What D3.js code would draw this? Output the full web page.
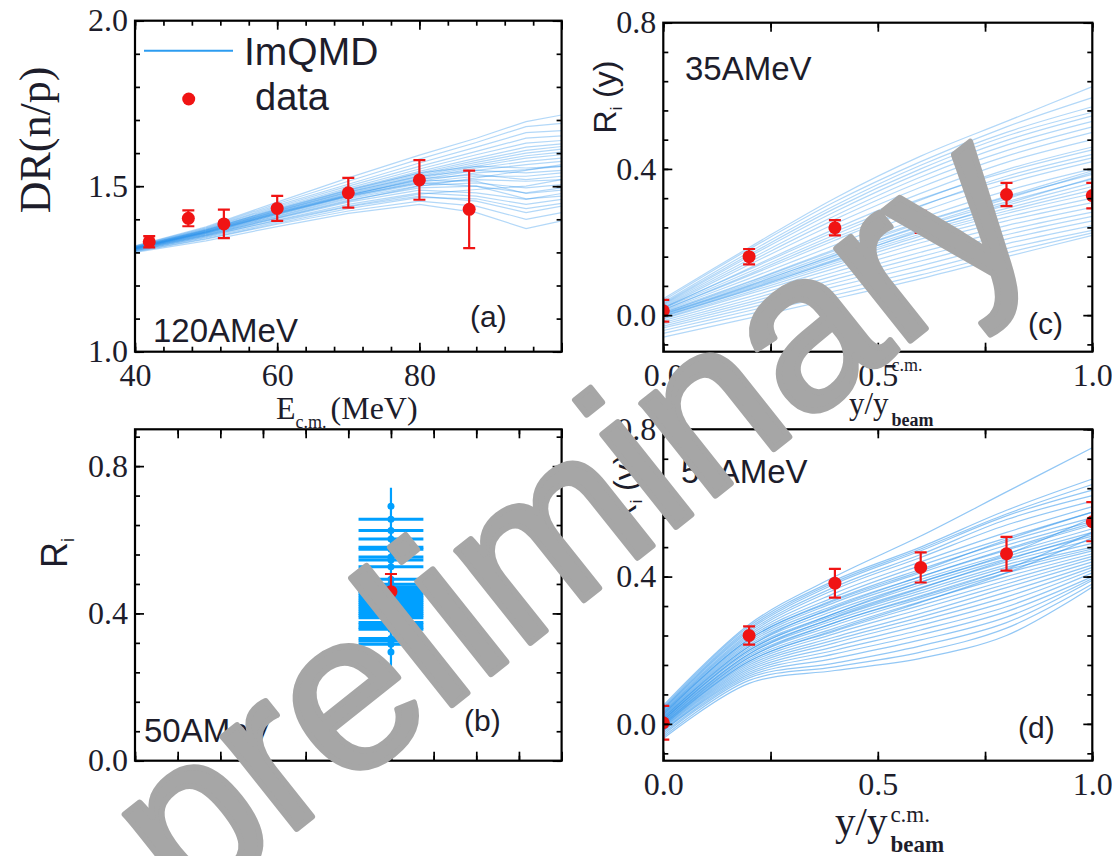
<!DOCTYPE html>
<html>
<head>
<meta charset="utf-8">
<script src="https://cdn.jsdelivr.net/npm/d3@7"></script>
<style>
  html, body { margin: 0; padding: 0; background: #fff; }
  svg { display: block; }
</style>
</head>
<body>
<div id="main"></div>
<script>
// ---------- data ----------
// (a) 120 AMeV, DR(n/p) vs E_cm
const aDataX = [42, 47.5, 52.5, 60, 70, 80, 87];
const aDataY = [1.332, 1.403, 1.386, 1.433, 1.480, 1.519, 1.430];
const aDataErr = [0.017, 0.024, 0.043, 0.038, 0.045, 0.060, 0.117];
const aModelX = [40, 50, 60, 70, 80, 88, 95, 100];
const aModel = [
  [1.300, 1.335, 1.378, 1.418, 1.445, 1.420, 1.372, 1.395],
  [1.302, 1.340, 1.385, 1.425, 1.455, 1.440, 1.400, 1.420],
  [1.305, 1.345, 1.392, 1.438, 1.470, 1.455, 1.420, 1.440],
  [1.305, 1.347, 1.398, 1.445, 1.480, 1.470, 1.445, 1.460],
  [1.307, 1.350, 1.402, 1.452, 1.488, 1.480, 1.460, 1.478],
  [1.308, 1.352, 1.405, 1.458, 1.495, 1.500, 1.480, 1.495],
  [1.309, 1.354, 1.408, 1.462, 1.502, 1.510, 1.495, 1.505],
  [1.310, 1.356, 1.410, 1.465, 1.508, 1.520, 1.515, 1.520],
  [1.310, 1.357, 1.413, 1.468, 1.512, 1.530, 1.530, 1.540],
  [1.311, 1.358, 1.415, 1.470, 1.515, 1.540, 1.550, 1.560],
  [1.312, 1.360, 1.418, 1.473, 1.520, 1.548, 1.565, 1.575],
  [1.312, 1.361, 1.420, 1.476, 1.524, 1.555, 1.575, 1.585],
  [1.313, 1.362, 1.422, 1.478, 1.528, 1.560, 1.585, 1.595],
  [1.313, 1.363, 1.424, 1.481, 1.532, 1.566, 1.592, 1.603],
  [1.314, 1.364, 1.426, 1.484, 1.536, 1.572, 1.600, 1.612],
  [1.315, 1.366, 1.428, 1.487, 1.540, 1.578, 1.608, 1.620],
  [1.315, 1.367, 1.431, 1.490, 1.545, 1.585, 1.618, 1.628],
  [1.316, 1.368, 1.434, 1.494, 1.552, 1.595, 1.630, 1.638],
  [1.317, 1.370, 1.438, 1.500, 1.560, 1.605, 1.645, 1.652],
  [1.318, 1.372, 1.442, 1.506, 1.570, 1.618, 1.662, 1.668],
  [1.319, 1.374, 1.447, 1.515, 1.582, 1.632, 1.680, 1.690],
  [1.320, 1.377, 1.452, 1.525, 1.594, 1.645, 1.695, 1.715],
  [1.306, 1.350, 1.396, 1.440, 1.476, 1.490, 1.500, 1.520],
  [1.309, 1.353, 1.404, 1.455, 1.500, 1.525, 1.548, 1.565],
  [1.311, 1.358, 1.416, 1.472, 1.522, 1.535, 1.520, 1.530],
  [1.313, 1.362, 1.420, 1.474, 1.518, 1.515, 1.478, 1.488],
  [1.314, 1.365, 1.425, 1.482, 1.530, 1.548, 1.540, 1.548],
  [1.316, 1.368, 1.430, 1.488, 1.540, 1.560, 1.555, 1.560],
  [1.303, 1.342, 1.388, 1.432, 1.466, 1.462, 1.432, 1.448],
  [1.312, 1.360, 1.418, 1.470, 1.510, 1.500, 1.462, 1.470]
];

// (c) 35 AMeV and (d) 50 AMeV, R_i(y) vs y/y_beam
const rapX = [0, 0.2, 0.4, 0.6, 0.8, 1.0];
const cDataY = [0.012, 0.160, 0.239, 0.255, 0.330, 0.327];
const cDataErr = [0.030, 0.021, 0.021, 0.030, 0.032, 0.035];
const cModel = [
  [0.045, 0.185, 0.320, 0.435, 0.530, 0.625],
  [0.040, 0.180, 0.310, 0.420, 0.515, 0.595],
  [0.035, 0.172, 0.300, 0.410, 0.500, 0.570],
  [0.032, 0.165, 0.292, 0.400, 0.490, 0.555],
  [0.030, 0.160, 0.283, 0.390, 0.478, 0.545],
  [0.028, 0.152, 0.272, 0.378, 0.465, 0.530],
  [0.025, 0.145, 0.262, 0.365, 0.450, 0.515],
  [0.022, 0.138, 0.250, 0.350, 0.435, 0.500],
  [0.020, 0.128, 0.236, 0.333, 0.418, 0.480],
  [0.018, 0.118, 0.220, 0.315, 0.398, 0.460],
  [0.015, 0.108, 0.205, 0.298, 0.380, 0.440],
  [0.012, 0.100, 0.192, 0.282, 0.360, 0.420],
  [0.010, 0.092, 0.180, 0.265, 0.340, 0.400],
  [0.008, 0.086, 0.170, 0.252, 0.322, 0.385],
  [0.005, 0.082, 0.163, 0.242, 0.310, 0.372],
  [0.003, 0.078, 0.158, 0.235, 0.300, 0.362],
  [0.000, 0.075, 0.152, 0.228, 0.292, 0.352],
  [-0.003, 0.072, 0.147, 0.222, 0.285, 0.342],
  [-0.005, 0.068, 0.142, 0.216, 0.278, 0.332],
  [-0.008, 0.063, 0.136, 0.208, 0.268, 0.320],
  [-0.010, 0.058, 0.128, 0.198, 0.258, 0.308],
  [-0.015, 0.050, 0.118, 0.185, 0.245, 0.295],
  [-0.020, 0.042, 0.108, 0.172, 0.232, 0.282],
  [-0.025, 0.035, 0.098, 0.160, 0.220, 0.270],
  [-0.030, 0.028, 0.088, 0.148, 0.208, 0.258],
  [-0.035, 0.020, 0.078, 0.135, 0.195, 0.245],
  [-0.042, 0.012, 0.066, 0.122, 0.182, 0.232],
  [-0.050, 0.003, 0.055, 0.110, 0.170, 0.225],
  [-0.060, -0.008, 0.045, 0.100, 0.160, 0.218],
  [0.006, 0.090, 0.176, 0.255, 0.325, 0.395],
  [0.014, 0.112, 0.212, 0.300, 0.372, 0.430],
  [0.002, 0.080, 0.165, 0.245, 0.318, 0.390],
  [-0.002, 0.070, 0.150, 0.232, 0.305, 0.375],
  [0.020, 0.125, 0.228, 0.318, 0.392, 0.452]
];

const dDataY = [0.003, 0.240, 0.382, 0.425, 0.462, 0.549];
const dDataErr = [0.046, 0.025, 0.039, 0.041, 0.046, 0.053];
const dModel = [
  [0.050, 0.270, 0.400, 0.510, 0.630, 0.750],
  [0.045, 0.265, 0.390, 0.480, 0.580, 0.665],
  [0.042, 0.260, 0.385, 0.475, 0.570, 0.650],
  [0.040, 0.255, 0.380, 0.470, 0.565, 0.635],
  [0.038, 0.250, 0.372, 0.460, 0.555, 0.620],
  [0.035, 0.245, 0.365, 0.452, 0.540, 0.605],
  [0.032, 0.240, 0.355, 0.440, 0.520, 0.590],
  [0.030, 0.235, 0.345, 0.430, 0.505, 0.575],
  [0.028, 0.230, 0.338, 0.420, 0.495, 0.560],
  [0.025, 0.225, 0.330, 0.410, 0.485, 0.550],
  [0.022, 0.220, 0.322, 0.400, 0.472, 0.540],
  [0.020, 0.215, 0.315, 0.392, 0.462, 0.530],
  [0.018, 0.210, 0.308, 0.385, 0.455, 0.520],
  [0.015, 0.205, 0.300, 0.378, 0.448, 0.510],
  [0.012, 0.200, 0.295, 0.370, 0.440, 0.500],
  [0.010, 0.195, 0.288, 0.362, 0.432, 0.490],
  [0.008, 0.190, 0.282, 0.355, 0.425, 0.480],
  [0.005, 0.185, 0.275, 0.348, 0.418, 0.475],
  [0.003, 0.180, 0.268, 0.340, 0.410, 0.470],
  [0.000, 0.175, 0.260, 0.332, 0.400, 0.462],
  [-0.002, 0.170, 0.252, 0.322, 0.390, 0.455],
  [-0.005, 0.165, 0.245, 0.312, 0.380, 0.448],
  [-0.008, 0.160, 0.236, 0.300, 0.370, 0.440],
  [-0.010, 0.155, 0.228, 0.290, 0.358, 0.432],
  [-0.012, 0.150, 0.220, 0.280, 0.345, 0.425],
  [-0.015, 0.145, 0.210, 0.268, 0.332, 0.418],
  [-0.018, 0.140, 0.200, 0.255, 0.318, 0.410],
  [-0.020, 0.135, 0.190, 0.242, 0.305, 0.400],
  [-0.025, 0.130, 0.178, 0.228, 0.290, 0.395],
  [-0.030, 0.125, 0.165, 0.212, 0.275, 0.390],
  [-0.035, 0.118, 0.155, 0.195, 0.260, 0.380],
  [-0.040, 0.110, 0.145, 0.178, 0.240, 0.372],
  [0.015, 0.210, 0.318, 0.400, 0.475, 0.545],
  [0.005, 0.190, 0.290, 0.368, 0.445, 0.515],
  [0.000, 0.180, 0.275, 0.345, 0.420, 0.520],
  [0.025, 0.230, 0.335, 0.415, 0.500, 0.575],
  [-0.005, 0.170, 0.255, 0.330, 0.410, 0.505],
  [0.010, 0.200, 0.300, 0.385, 0.460, 0.560]
];

// (b) 50 AMeV, integrated R_i
const bPosX = 6;
const bDataY = 0.459;
const bDataErr = 0.048;
const bModel = [0.656, 0.625, 0.602, 0.580, 0.574, 0.553, 0.545, 0.527, 0.493,
  0.479, 0.472, 0.466, 0.460, 0.454, 0.448, 0.442, 0.436, 0.430, 0.424, 0.418,
  0.412, 0.406, 0.400, 0.394, 0.388, 0.375, 0.369, 0.362, 0.357, 0.332, 0.325, 0.316];
const bModelXErr = 0.76;
const bModelRange = [0.241, 0.741];
const bModelEnds = [0.691, 0.295];

// tick values
const aXMajor = [40, 60, 80, 100];
const aXLabels = [40, 60, 80];
const aXMinor = d3.range(40, 100.1, 4);
const aYMajor = [1.0, 1.5, 2.0];
const aYMinor = d3.range(1.0, 2.01, 0.1);
const rapXTicks = [0, 0.25, 0.5, 0.75, 1.0];
const rapXLabels = [0, 0.5, 1.0];
const riYMajor = [0, 0.4, 0.8];
const riYMinorC = d3.range(-0.08, 0.81, 0.08);
const riYMinorB = d3.range(0, 0.89, 0.08);
const bXTicks = d3.range(0, 10.1, 1);

// ---------- drawing ----------
const RED = '#f01414';
const BLUE = '#2590ec';
const BAR_BLUE = '#00a0ff';
const INK = '#1d1d2b';
const SERIF = '"Liberation Serif", "Times New Roman", serif';
const SANS = '"Liberation Sans", Arial, sans-serif';
const fmt1 = d3.format('.1f');

const svg = d3.select('#main').append('svg')
  .attr('width', 1112).attr('height', 856);

function makePanel(p) {
  const g = svg.append('g').attr('transform', `translate(${p.left},${p.top})`);
  const x = d3.scaleLinear().domain(p.xDomain).range([0, p.width]);
  const y = d3.scaleLinear().domain(p.yDomain).range([p.height, 0]);
  g.append('clipPath').attr('id', 'clip-' + p.id)
    .append('rect').attr('width', p.width).attr('height', p.height);
  const plot = g.append('g').attr('clip-path', `url(#clip-${p.id})`);
  return { g, x, y, plot, p };
}

function cleanAxis(sel) {
  sel.select('.domain').remove();
  sel.selectAll('line').attr('stroke', '#000').attr('stroke-width', 1.7);
  sel.selectAll('text').style('font-family', SERIF).style('font-size', '32px').attr('fill', INK);
}

function drawAxes(panel) {
  const { g, x, y, p } = panel;
  const w = p.width, h = p.height;
  const noLab = () => '';
  const xLab = d => p.xLabels.some(v => Math.abs(v - d) < 1e-9) ? p.xFormat(d) : '';
  // bottom
  g.append('g').attr('transform', `translate(0,${h})`)
    .call(d3.axisBottom(x).tickValues(p.xMinor).tickSize(-5).tickFormat(noLab)).call(cleanAxis);
  g.append('g').attr('transform', `translate(0,${h})`)
    .call(d3.axisBottom(x).tickValues(p.xMajor).tickSize(-9).tickPadding(12).tickFormat(xLab)).call(cleanAxis);
  // top
  g.append('g')
    .call(d3.axisTop(x).tickValues(p.xMinor).tickSize(-5).tickFormat(noLab)).call(cleanAxis);
  g.append('g')
    .call(d3.axisTop(x).tickValues(p.xMajor).tickSize(-9).tickFormat(noLab)).call(cleanAxis);
  // left
  g.append('g')
    .call(d3.axisLeft(y).tickValues(p.yMinor).tickSize(-5).tickFormat(noLab)).call(cleanAxis);
  g.append('g')
    .call(d3.axisLeft(y).tickValues(p.yMajor).tickSize(-9).tickPadding(7).tickFormat(fmt1)).call(cleanAxis);
  // right
  g.append('g').attr('transform', `translate(${w},0)`)
    .call(d3.axisRight(y).tickValues(p.yMinor).tickSize(-5).tickFormat(noLab)).call(cleanAxis);
  g.append('g').attr('transform', `translate(${w},0)`)
    .call(d3.axisRight(y).tickValues(p.yMajor).tickSize(-9).tickFormat(noLab)).call(cleanAxis);
  // frame
  g.append('rect').attr('width', w).attr('height', h)
    .attr('fill', 'none').attr('stroke', '#000').attr('stroke-width', 2.2);
}

function drawModel(panel, xs, curves, curve, opacity) {
  const { plot, x, y } = panel;
  const line = d3.line().x((d, i) => x(xs[i])).y(d => y(d)).curve(curve);
  plot.append('g').selectAll('path').data(curves).join('path')
    .attr('d', line)
    .attr('fill', 'none')
    .attr('stroke', BLUE)
    .attr('stroke-width', 1.2)
    .attr('stroke-opacity', opacity);
}

function drawData(panel, xs, ys, errs) {
  const { plot, x, y } = panel;
  const pts = xs.map((d, i) => ({ x: d, y: ys[i], e: errs[i] }));
  const g = plot.append('g').selectAll('g').data(pts).join('g');
  g.append('line')
    .attr('x1', d => x(d.x)).attr('x2', d => x(d.x))
    .attr('y1', d => y(d.y - d.e)).attr('y2', d => y(d.y + d.e))
    .attr('stroke', RED).attr('stroke-width', 2.2);
  [-1, 1].forEach(s => {
    g.append('line')
      .attr('x1', d => x(d.x) - 6).attr('x2', d => x(d.x) + 6)
      .attr('y1', d => y(d.y + s * d.e)).attr('y2', d => y(d.y + s * d.e))
      .attr('stroke', RED).attr('stroke-width', 2.2);
  });
  g.append('circle')
    .attr('cx', d => x(d.x)).attr('cy', d => y(d.y)).attr('r', 6.5)
    .attr('fill', RED);
}

function label(txt, xPos, yPos, size, family, anchor) {
  return svg.append('text').attr('x', xPos).attr('y', yPos)
    .attr('font-size', size).attr('font-family', family || SANS)
    .attr('text-anchor', anchor || 'start').attr('fill', INK).text(txt);
}

// ----- panel (a) -----
const pa = makePanel({ id: 'a', left: 135, top: 20.7, width: 426.6, height: 331,
  xDomain: [40, 100], yDomain: [1.0, 2.0],
  xMajor: aXMajor, xMinor: aXMinor, xLabels: aXLabels, xFormat: d3.format('d'),
  yMajor: aYMajor, yMinor: aYMinor });
drawModel(pa, aModelX, aModel, d3.curveLinear, 0.35);
drawData(pa, aDataX, aDataY, aDataErr);
drawAxes(pa);

// ----- panel (c) -----
const pc = makePanel({ id: 'c', left: 663.3, top: 22.7, width: 429, height: 329,
  xDomain: [0, 1], yDomain: [-0.1, 0.8],
  xMajor: rapXTicks, xMinor: rapXTicks, xLabels: rapXLabels, xFormat: fmt1,
  yMajor: riYMajor, yMinor: riYMinorC });
drawModel(pc, rapX, cModel, d3.curveCatmullRom.alpha(0.5), 0.35);
drawData(pc, rapX, cDataY, cDataErr);
drawAxes(pc);

// ----- panel (b) -----
const pb = makePanel({ id: 'b', left: 135, top: 429.3, width: 426.6, height: 331.4,
  xDomain: [0, 10], yDomain: [0, 0.9],
  xMajor: bXTicks, xMinor: bXTicks, xLabels: [], xFormat: fmt1,
  yMajor: riYMajor, yMinor: riYMinorB });
{
  const { plot, x, y } = pb;
  plot.append('line')
    .attr('x1', x(bPosX)).attr('x2', x(bPosX))
    .attr('y1', y(bModelRange[0])).attr('y2', y(bModelRange[1]))
    .attr('stroke', BAR_BLUE).attr('stroke-width', 2.2);
  plot.append('g').selectAll('line').data(bModel).join('line')
    .attr('x1', x(bPosX - bModelXErr)).attr('x2', x(bPosX + bModelXErr))
    .attr('y1', d => y(d)).attr('y2', d => y(d))
    .attr('stroke', BAR_BLUE).attr('stroke-width', 3);
  plot.append('g').selectAll('circle').data(bModel.concat(bModelEnds)).join('circle')
    .attr('cx', x(bPosX)).attr('cy', d => y(d)).attr('r', 3.5)
    .attr('fill', BAR_BLUE);
}
drawData(pb, [bPosX], [bDataY], [bDataErr]);
drawAxes(pb);

// ----- panel (d) -----
const pd = makePanel({ id: 'd', left: 663.3, top: 429.3, width: 429, height: 331.4,
  xDomain: [0, 1], yDomain: [-0.1, 0.8],
  xMajor: rapXTicks, xMinor: rapXTicks, xLabels: rapXLabels, xFormat: fmt1,
  yMajor: riYMajor, yMinor: riYMinorC });
drawModel(pd, rapX, dModel, d3.curveCatmullRom.alpha(0.5), 0.5);
drawData(pd, rapX, dDataY, dDataErr);
drawAxes(pd);

// ---------- legend and annotations ----------
svg.append('line').attr('x1', 144).attr('x2', 233).attr('y1', 50.7).attr('y2', 50.7)
  .attr('stroke', '#2c9cf0').attr('stroke-width', 2);
label('ImQMD', 244, 65, 39);
svg.append('circle').attr('cx', 188.7).attr('cy', 99).attr('r', 6.5).attr('fill', RED);
label('data', 255, 110, 38);

label('120AMeV', 153, 342, 33);
label('(a)', 470, 327, 30);
label('35AMeV', 685, 80, 33);
label('(c)', 1028, 334, 30);
label('50AMeV', 144, 742, 33);
label('(b)', 464, 731, 30);
label('50AMeV', 681, 483, 33);
label('(d)', 1018, 738, 30);

// axis titles
svg.append('text').attr('transform', 'translate(50,140) rotate(-90)')
  .attr('text-anchor', 'middle').attr('font-family', SERIF).attr('font-size', 44)
  .attr('fill', INK).text('DR(n/p)');

const ex = svg.append('text').attr('x', 276).attr('y', 419)
  .attr('font-family', SERIF).attr('font-size', 32).attr('fill', INK);
ex.append('tspan').text('E');
ex.append('tspan').attr('font-size', 18).attr('dy', 9).text('c.m.');
ex.append('tspan').attr('dy', -9).attr('dx', 4).text('(MeV)');

function riLabel(bx, cy, size, withY) {
  const t = svg.append('text').attr('transform', `translate(${bx},${cy}) rotate(-90)`)
    .attr('text-anchor', 'middle').attr('font-family', SANS).attr('font-size', size)
    .attr('fill', INK);
  t.append('tspan').text('R');
  t.append('tspan').attr('font-size', size * 0.5).attr('dy', size * 0.2).text('i');
  if (withY) t.append('tspan').attr('dy', -size * 0.2).text(' (y)');
}
riLabel(616, 97, 32, true);
riLabel(67, 553, 36, false);
riLabel(636, 490, 32, true);

function rapLabel(x0, base, size, supSize, supY, subY) {
  label('y/y', x0, base, size, SERIF);
  const w = size * 1.278;
  label('c.m.', x0 + w + 3, supY, supSize, SERIF);
  label('beam', x0 + w + 3, subY, supSize, SERIF).attr('font-weight', 'bold');
}
rapLabel(849, 414, 31, 18, 371, 426);
rapLabel(835, 835, 41, 23, 822, 852);

// ---------- watermark ----------
svg.append('text')
  .attr('transform', 'translate(187,916) rotate(-38.5)')
  .attr('font-family', SANS).attr('font-size', 224)
  .attr('fill', '#a6a6a6').attr('stroke', '#a6a6a6')
  .attr('stroke-width', 6).attr('stroke-linejoin', 'round')
  .text('preliminary');
</script>
</body>
</html>
